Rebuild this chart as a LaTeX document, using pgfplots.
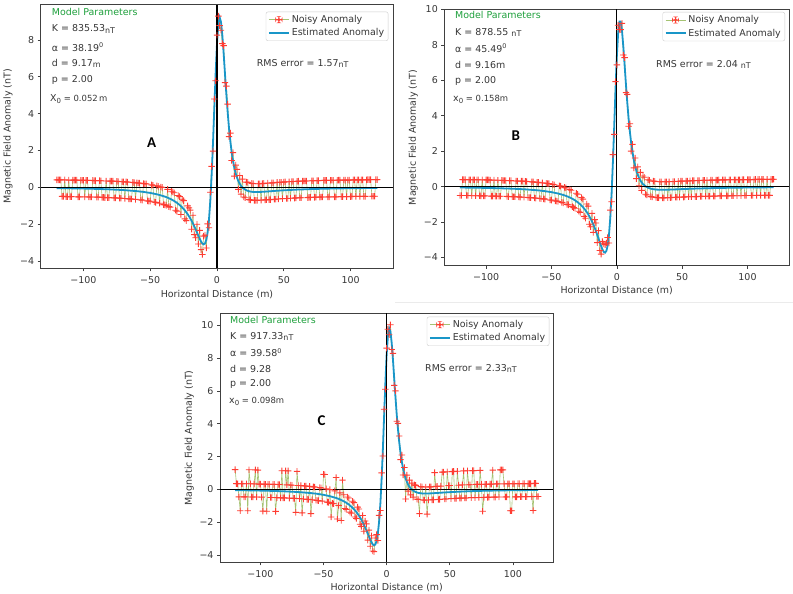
\documentclass[border=0pt]{standalone}
\usepackage{fontspec}
\setmainfont{DejaVu Sans}
\newfontfamily\carlito{Carlito}
\usepackage{pgfplots}
\usepackage{pgfplotstable}
\pgfplotsset{compat=1.18}
\definecolor{noisyline}{RGB}{165,195,115}
\definecolor{noisymark}{RGB}{255,60,50}
\definecolor{estblue}{RGB}{25,150,200}
\definecolor{mpgreen}{RGB}{30,160,60}
\definecolor{txt}{RGB}{55,55,55}
\newcommand\fs{\fontsize{9.5}{11}\selectfont}
\newcommand\un[1]{{\fontsize{8}{8}\selectfont\raisebox{-1.2bp}{#1}}}
\newcommand\dg{\raisebox{3.6bp}{\fontsize{6.5}{6.5}\selectfont 0}}
\newcommand\sub[1]{\raisebox{-2bp}{\fontsize{7}{7}\selectfont #1}}
\pgfdeclareplotmark{plusf}{%
 \pgfpathrectangle{\pgfpoint{-\pgfplotmarksize}{-0.45bp}}{\pgfpoint{2\pgfplotmarksize}{0.9bp}}%
 \pgfpathrectangle{\pgfpoint{-0.45bp}{-\pgfplotmarksize}}{\pgfpoint{0.9bp}{2\pgfplotmarksize}}%
 \pgfusepathqfill}
% ---------- data ----------
\pgfplotstableread{
x y
-120 0.40
-119 0.40
-118 0.40
-117 0.40
-116 -0.50
-115 -0.50
-114 0.40
-113 -0.51
-112 -0.51
-111 0.39
-110 -0.51
-109 -0.51
-108 0.39
-107 0.39
-106 0.39
-105 0.39
-104 -0.52
-103 -0.52
-102 0.38
-101 0.38
-100 0.38
-99 -0.52
-98 0.37
-97 0.37
-96 -0.53
-95 -0.53
-94 -0.53
-93 0.37
-92 0.36
-91 0.36
-90 -0.54
-89 -0.54
-88 0.36
-87 0.35
-86 -0.55
-85 -0.55
-84 -0.56
-83 0.34
-82 -0.56
-81 -0.56
-80 0.33
-79 0.33
-78 0.33
-77 -0.58
-76 -0.58
-75 0.32
-74 0.31
-73 -0.59
-72 -0.60
-71 0.30
-70 0.30
-69 -0.61
-68 0.29
-67 0.28
-66 -0.63
-65 -0.63
-64 -0.64
-63 0.26
-62 0.25
-61 -0.66
-60 0.24
-59 0.23
-58 0.22
-57 -0.69
-56 -0.70
-55 0.20
-54 0.19
-53 0.18
-52 -0.74
-51 -0.75
-50 -0.76
-49 0.13
-48 0.11
-47 -0.80
-46 -0.82
-45 0.07
-44 0.05
-43 -0.87
-42 0.01
-41 -0.01
-40 -0.94
-39 -0.96
-38 -0.99
-37 -0.12
-36 -1.05
-35 -1.08
-34 -0.22
-33 -0.26
-32 -0.30
-31 -1.25
-30 -1.30
-29 -0.45
-28 -0.51
-27 -1.48
-26 -0.65
-25 -0.73
-24 -1.72
-23 -1.81
-22 -1.01
-21 -1.12
-20 -1.24
-19 -2.28
-18 -1.52
-17 -2.57
-16 -2.74
-15 -2.01
-14 -3.08
-13 -2.34
-12 -3.39
-11 -3.65
-10 -2.65
-9 -2.60
-8 -3.30
-7 -1.99
-6 -2.20
-5 -0.27
-4 1.13
-3 1.96
-2 4.79
-1 5.78
0 8.26
1 9.29
2 8.77
3 8.52
4 7.80
5 7.69
6 5.68
7 5.49
8 4.51
9 2.75
10 2.94
11 1.45
12 1.88
13 0.60
14 1.20
15 0.97
16 -0.12
17 0.64
18 -0.37
19 0.44
20 -0.53
21 -0.57
22 0.28
23 0.26
24 -0.67
25 -0.69
26 0.21
27 0.20
28 -0.71
29 -0.71
30 -0.71
31 0.19
32 0.19
33 -0.70
34 0.20
35 0.21
36 -0.69
37 -0.68
38 0.22
39 -0.67
40 -0.67
41 0.24
42 0.24
43 -0.65
44 -0.65
45 0.26
46 -0.64
47 0.27
48 0.27
49 -0.62
50 0.28
51 0.29
52 -0.61
53 -0.61
54 0.30
55 -0.60
56 0.31
57 0.31
58 -0.59
59 -0.58
60 0.32
61 0.33
62 -0.57
63 -0.57
64 0.33
65 0.34
66 0.34
67 0.34
68 -0.56
69 -0.55
70 -0.55
71 0.35
72 0.35
73 -0.55
74 -0.54
75 0.36
76 0.36
77 -0.54
78 -0.53
79 -0.53
80 0.37
81 0.37
82 0.37
83 -0.53
84 -0.52
85 0.38
86 0.38
87 0.38
88 -0.52
89 -0.52
90 0.38
91 0.39
92 0.39
93 -0.51
94 -0.51
95 0.39
96 0.39
97 -0.51
98 0.39
99 0.39
100 -0.51
101 -0.50
102 0.40
103 0.40
104 -0.50
105 0.40
106 0.40
107 -0.50
108 0.40
109 0.40
110 -0.50
111 -0.50
112 0.40
113 0.41
114 0.41
115 0.41
116 -0.49
117 -0.49
118 -0.49
119 0.41
120 0.41
}\noisyA
\pgfplotstableread{
x y
-120 -0.50
-119 -0.50
-118 0.40
-117 0.40
-116 0.40
-115 -0.50
-114 -0.50
-113 0.39
-112 0.39
-111 -0.51
-110 0.39
-109 0.39
-108 -0.51
-107 0.39
-106 0.39
-105 -0.51
-104 -0.52
-103 0.38
-102 -0.52
-101 -0.52
-100 0.38
-99 0.38
-98 0.38
-97 0.37
-96 -0.53
-95 -0.53
-94 0.37
-93 -0.53
-92 -0.54
-91 0.36
-90 -0.54
-89 -0.54
-88 0.36
-87 0.35
-86 0.35
-85 0.35
-84 -0.55
-83 -0.56
-82 0.34
-81 0.34
-80 -0.56
-79 -0.57
-78 -0.57
-77 0.32
-76 0.32
-75 -0.58
-74 -0.59
-73 0.31
-72 0.31
-71 -0.60
-70 0.30
-69 0.29
-68 -0.61
-67 -0.62
-66 -0.62
-65 0.27
-64 0.27
-63 -0.64
-62 -0.65
-61 0.24
-60 0.24
-59 -0.67
-58 -0.68
-57 0.21
-56 -0.69
-55 -0.70
-54 0.19
-53 0.18
-52 0.17
-51 -0.75
-50 -0.76
-49 0.13
-48 0.11
-47 -0.80
-46 -0.82
-45 -0.84
-44 0.05
-43 0.03
-42 -0.89
-41 -0.92
-40 -0.04
-39 -0.07
-38 -1.00
-37 -1.03
-36 -0.16
-35 -0.20
-34 -1.13
-33 -1.18
-32 -1.22
-31 -0.37
-30 -0.43
-29 -1.39
-28 -1.45
-27 -0.62
-26 -0.70
-25 -1.68
-24 -1.78
-23 -0.98
-22 -1.10
-21 -2.12
-20 -2.26
-19 -1.51
-18 -2.58
-17 -1.86
-16 -2.05
-15 -3.16
-14 -2.48
-13 -3.60
-12 -3.81
-11 -3.10
-10 -3.23
-9 -3.27
-8 -3.18
-7 -2.87
-6 -3.18
-5 -1.32
-4 -0.85
-3 1.81
-2 2.95
-1 5.93
0 6.87
1 9.11
2 8.87
3 8.86
4 9.22
5 7.43
6 7.28
7 5.31
8 5.21
9 3.41
10 3.55
11 2.01
12 2.39
13 1.06
14 1.62
15 0.45
16 1.12
17 0.05
18 0.81
19 -0.21
20 0.60
21 0.53
22 -0.43
23 -0.47
24 0.39
25 0.36
26 -0.56
27 -0.58
28 0.31
29 0.30
30 -0.61
31 -0.62
32 -0.62
33 0.28
34 0.28
35 -0.63
36 -0.63
37 0.28
38 0.28
39 -0.62
40 0.28
41 -0.62
42 -0.61
43 0.29
44 0.29
45 -0.60
46 -0.60
47 0.30
48 -0.59
49 0.31
50 0.31
51 -0.59
52 -0.58
53 0.32
54 0.32
55 -0.57
56 0.33
57 -0.57
58 0.34
59 0.34
60 -0.56
61 -0.56
62 0.35
63 0.35
64 -0.55
65 -0.55
66 0.36
67 0.36
68 -0.54
69 0.36
70 -0.54
71 -0.54
72 0.37
73 0.37
74 -0.53
75 -0.53
76 0.37
77 0.37
78 0.38
79 -0.52
80 -0.52
81 0.38
82 0.38
83 0.38
84 -0.52
85 -0.52
86 0.39
87 0.39
88 -0.51
89 -0.51
90 0.39
91 0.39
92 -0.51
93 0.39
94 0.39
95 -0.51
96 0.40
97 0.40
98 -0.50
99 -0.50
100 0.40
101 0.40
102 0.40
103 -0.50
104 -0.50
105 0.40
106 0.41
107 -0.49
108 0.41
109 0.41
110 -0.49
111 0.41
112 0.41
113 -0.49
114 -0.49
115 0.41
116 -0.49
117 -0.49
118 0.41
119 0.41
120 0.42
}\noisyB
\pgfplotstableread{
x y
-120 1.20
-119 0.35
-118 0.34
-117 -0.46
-116 -1.31
-115 0.34
-114 0.34
-113 -0.46
-112 -0.46
-111 0.34
-110 -1.31
-109 1.19
-108 0.34
-107 -0.47
-106 -0.47
-105 0.33
-104 1.18
-103 -0.47
-102 1.17
-101 0.32
-100 0.32
-99 -0.48
-98 -1.33
-97 0.32
-96 0.31
-95 -1.34
-94 0.31
-93 0.31
-92 -0.50
-91 -0.50
-90 0.30
-89 0.30
-88 -1.35
-87 -0.51
-86 0.29
-85 0.29
-84 -0.52
-83 1.13
-82 -0.52
-81 -0.52
-80 1.13
-79 0.27
-78 1.12
-77 -0.54
-76 0.26
-75 0.25
-74 -0.55
-73 -0.55
-72 -1.41
-71 1.09
-70 0.23
-69 -0.57
-68 0.22
-67 -1.44
-66 -0.59
-65 0.20
-64 0.20
-63 -0.61
-62 -0.62
-61 0.18
-60 -1.48
-59 -0.64
-58 0.15
-57 0.14
-56 -0.67
-55 -0.68
-54 -0.69
-53 0.10
-52 0.09
-51 -0.72
-50 0.91
-49 0.90
-48 0.03
-47 -0.78
-46 -0.80
-45 -0.02
-44 -1.69
-43 -0.86
-42 -0.88
-41 -0.10
-40 0.72
-39 -1.81
-38 -0.99
-37 -0.22
-36 -1.90
-35 0.56
-34 -0.33
-33 -1.17
-32 -1.22
-31 -0.47
-30 -0.53
-29 -1.39
-28 -1.45
-27 -0.73
-26 -0.81
-25 -1.69
-24 -1.78
-23 -1.09
-22 -1.20
-21 -2.13
-20 -2.26
-19 -1.60
-18 -2.56
-17 -1.93
-16 -2.11
-15 -3.10
-14 -2.49
-13 -3.47
-12 -2.83
-11 -3.76
-10 -3.80
-9 -2.97
-8 -2.76
-7 -3.12
-6 -1.59
-5 -1.29
-4 1.00
-3 2.03
-2 4.88
-1 6.10
0 8.61
1 9.76
2 9.42
3 10.03
4 8.52
5 8.29
6 6.34
7 6.00
8 4.15
9 4.02
10 3.25
11 1.81
12 2.09
13 0.87
14 1.33
15 -0.59
16 0.86
17 -0.11
18 0.56
19 -0.34
20 0.38
21 -0.48
22 0.27
23 0.24
24 -0.60
25 -0.62
26 -1.48
27 0.16
28 0.15
29 -0.65
30 -0.66
31 0.14
32 -1.51
33 -0.65
34 0.15
35 0.15
36 -0.64
37 -0.64
38 1.02
39 0.17
40 0.18
41 -0.62
42 -0.61
43 0.19
44 1.05
45 1.05
46 -0.59
47 -0.59
48 1.07
49 0.22
50 0.23
51 -0.57
52 1.08
53 1.09
54 -0.56
55 -0.55
56 1.10
57 0.25
58 -0.54
59 -0.54
60 0.27
61 1.12
62 -0.53
63 -0.53
64 1.13
65 0.28
66 0.28
67 -0.51
68 1.14
69 1.14
70 -0.51
71 0.30
72 0.30
73 -0.50
74 1.15
75 0.31
76 -1.34
77 -0.49
78 0.31
79 0.31
80 -0.49
81 -0.48
82 0.32
83 0.32
84 1.17
85 -0.48
86 -0.48
87 0.33
88 0.33
89 -0.47
90 1.18
91 1.18
92 1.18
93 0.33
94 -0.47
95 -0.46
96 0.34
97 0.34
98 -1.31
99 -1.31
100 0.34
101 0.34
102 -0.46
103 -0.46
104 0.35
105 0.35
106 -0.45
107 -0.45
108 0.35
109 0.35
110 -0.45
111 -0.45
112 0.35
113 0.35
114 0.35
115 -0.45
116 -1.29
117 0.36
118 0.36
119 -0.44
120 -0.44
}\noisyC
\pgfplotsset{
 panel/.style={scale only axis, anchor=south west, xmin=-132, xmax=132,
  xtick={-100,-50,0,50,100}, xticklabels={−100,−50,0,50,100},
  tick align=outside, xtick pos=left, ytick pos=left, major tick length=3bp,
  tick style={black!75, line width=0.6bp},
  axis line style={black!75, line width=0.8bp},
  ticklabel style={font=\fs, text=txt},
  xticklabel style={yshift=-1.5bp},
  legend style={draw=black!20, rounded corners=2bp, fill=white, font=\fs, text=txt,
   inner xsep=2bp, inner ysep=1.5bp, row sep=0.5bp, cells={anchor=west},
   anchor=north east},
  legend image code/.code={\draw[##1] (0bp,0bp) -- (20bp,0bp);}},
 nline/.style={color=noisyline, line width=0.6bp, no markers, forget plot},
 nmark/.style={color=noisymark, only marks, mark=plusf, mark size=3.2bp,
  mark options={fill=noisymark, draw=none},
  legend image code/.code={\draw[color=noisyline, line width=0.6bp] (0bp,0bp) -- (20bp,0bp);
   \fill[noisymark] (6.8bp,-0.45bp) rectangle (13.2bp,0.45bp) (9.55bp,-3.2bp) rectangle (10.45bp,3.2bp);}},
 est/.style={color=estblue, line width=1.8bp, no markers},
}
\begin{document}
\begin{tikzpicture}[x=1bp,y=1bp]
\useasboundingbox (0,0) rectangle (793,594);
\fill[white] (0,0) rectangle (793,594);
\draw[black!8, line width=0.8bp] (395,291.3) -- (793,291.3);
% ---------------- A ----------------
\begin{axis}[panel, at={(40.7bp,325.7bp)}, width=352.6bp, height=263.6bp,
 ymin=-4.4, ymax=9.91, ytick={-4,-2,0,2,4,6,8}, yticklabels={−4,−2,0,2,4,6,8},
 legend style={at={(1,1)}, xshift=-5bp, yshift=-7bp}]
\addplot[nline] table {\noisyA};
\addplot[nmark] table {\noisyA};
\addplot[est] coordinates {(-120,-0.050)(-110,-0.059)(-100,-0.073)(-90,-0.091)(-80,-0.117)(-70,-0.154)(-60,-0.212)(-55,-0.254)(-50,-0.309)(-45,-0.383)(-40,-0.485)(-38,-0.536)(-36,-0.597)(-34,-0.667)(-32,-0.749)(-30,-0.847)(-28,-0.962)(-26,-1.099)(-24,-1.263)(-22,-1.460)
(-20,-1.693)(-19,-1.826)(-18,-1.969)(-17,-2.124)(-16,-2.286)(-15,-2.456)(-14,-2.627)(-13,-2.793)(-12,-2.941)(-11,-3.054)(-10,-3.103)(-9,-3.053)(-8,-2.853)(-7,-2.442)(-6,-1.750)(-5,-0.718)(-4,0.682)(-3,2.411)(-2,4.337)(-1,6.228)(0,7.810)(1,8.844)(2,9.219)(3,8.969)(4,8.246)(5,7.240)(6,6.130)(7,5.044)(8,4.057)(9,3.201)(10,2.487)(11,1.900)(12,1.428)(13,1.051)(14,0.753)(15,0.518)(16,0.334)(17,0.190)(18,0.077)(19,-0.010)(20,-0.077)
(22,-0.168)(24,-0.219)(26,-0.247)(28,-0.258)(30,-0.260)(32,-0.255)(34,-0.249)(36,-0.239)(38,-0.228)(40,-0.217)(45,-0.190)(50,-0.167)(60,-0.128)(70,-0.101)(80,-0.080)(90,-0.066)(100,-0.055)(110,-0.047)(120,-0.039)};
\draw[black, line width=1.3bp] (axis cs:-132,0) -- (axis cs:132,0);
\draw[black, line width=1.3bp] (axis cs:0,-4.4) -- (axis cs:0,9.91);
\legend{Noisy Anomaly, Estimated Anomaly}
\end{axis}
% ---------------- B ----------------
\begin{axis}[panel, at={(444.3bp,328.3bp)}, width=345bp, height=256.2bp,
 ymin=-4.46, ymax=10, ytick={-4,-2,0,2,4,6,8,10}, yticklabels={−4,−2,0,2,4,6,8,10},
 legend style={at={(1,1)}, xshift=-4.3bp, yshift=-2.5bp}]
\addplot[nline] table {\noisyB};
\addplot[nmark] table {\noisyB};
\addplot[est] coordinates {(-120,-0.049)(-110,-0.058)(-100,-0.071)(-90,-0.089)(-80,-0.114)(-70,-0.152)(-60,-0.211)(-55,-0.254)(-50,-0.309)(-45,-0.385)(-40,-0.491)(-38,-0.546)(-36,-0.609)(-34,-0.683)(-32,-0.770)(-30,-0.875)(-28,-0.999)(-26,-1.148)(-24,-1.328)(-22,-1.546)
(-20,-1.810)(-19,-1.963)(-18,-2.129)(-17,-2.310)(-16,-2.504)(-15,-2.712)(-14,-2.929)(-13,-3.148)(-12,-3.360)(-11,-3.545)(-10,-3.679)(-9,-3.723)(-8,-3.627)(-7,-3.320)(-6,-2.725)(-5,-1.768)(-4,-0.401)(-3,1.360)(-2,3.396)(-1,5.481)(0,7.324)(1,8.655)(2,9.318)(3,9.314)(4,8.773)(5,7.884)(6,6.833)(7,5.760)(8,4.755)(9,3.863)(10,3.101)(11,2.463)(12,1.940)(13,1.514)(14,1.171)(15,0.896)(16,0.674)(17,0.496)(18,0.355)(19,0.241)(20,0.150)
(22,0.020)(24,-0.062)(26,-0.114)(28,-0.145)(30,-0.163)(32,-0.172)(34,-0.175)(36,-0.175)(38,-0.172)(40,-0.167)(45,-0.154)(50,-0.137)(60,-0.109)(70,-0.087)(80,-0.071)(90,-0.060)(100,-0.049)(110,-0.042)(120,-0.035)};
\draw[black, line width=1.3bp] (axis cs:-132,0) -- (axis cs:132,0);
\draw[black, line width=1.3bp] (axis cs:0,-4.46) -- (axis cs:0,10);
\legend{Noisy Anomaly, Estimated Anomaly}
\end{axis}
% ---------------- C ----------------
\begin{axis}[panel, at={(220bp,31.7bp)}, width=333.3bp, height=249bp,
 ymin=-4.45, ymax=10.73, ytick={-4,-2,0,2,4,6,8,10}, yticklabels={−4,−2,0,2,4,6,8,10},
 legend style={at={(1,1)}, xshift=-4bp, yshift=-3.4bp}]
\addplot[nline] table {\noisyC};
\addplot[nmark] table {\noisyC};
\addplot[est] coordinates {(-120,-0.054)(-110,-0.064)(-100,-0.080)(-90,-0.099)(-80,-0.127)(-70,-0.168)(-60,-0.230)(-55,-0.275)(-50,-0.336)(-45,-0.418)(-40,-0.529)(-38,-0.586)(-36,-0.653)(-34,-0.729)(-32,-0.820)(-30,-0.927)(-28,-1.053)(-26,-1.205)(-24,-1.384)(-22,-1.600)
(-20,-1.857)(-19,-2.004)(-18,-2.160)(-17,-2.330)(-16,-2.508)(-15,-2.695)(-14,-2.885)(-13,-3.066)(-12,-3.231)(-11,-3.356)(-10,-3.415)(-9,-3.366)(-8,-3.155)(-7,-2.720)(-6,-1.986)(-5,-0.891)(-4,0.596)(-3,2.433)(-2,4.481)(-1,6.503)(0,8.213)(1,9.361)(2,9.823)(3,9.625)(4,8.916)(5,7.893)(6,6.740)(7,5.596)(8,4.545)(9,3.624)(10,2.847)(11,2.206)(12,1.685)(13,1.266)(14,0.931)(15,0.665)(16,0.456)(17,0.290)(18,0.160)(19,0.058)(20,-0.021)
(22,-0.132)(24,-0.196)(26,-0.233)(28,-0.251)(30,-0.257)(32,-0.256)(34,-0.251)(36,-0.243)(38,-0.234)(40,-0.223)(45,-0.197)(50,-0.174)(60,-0.135)(70,-0.106)(80,-0.085)(90,-0.070)(100,-0.058)(110,-0.050)(120,-0.042)};
\draw[black, line width=1.3bp] (axis cs:-132,0) -- (axis cs:132,0);
\draw[black, line width=1.3bp] (axis cs:0,-4.45) -- (axis cs:0,10.73);
\legend{Noisy Anomaly, Estimated Anomaly}
\end{axis}
% ---------------- texts ----------------
\begin{scope}[every node/.style={font=\fs, text=txt, inner sep=0pt}]
% A
\node[anchor=west, text=mpgreen] at (51.7,581.7) {Model Parameters};
\node[anchor=west] at (51.7,565) {K = 835.53\un{nT}};
\node[anchor=west] at (51.7,547) {α = 38.19\dg};
\node[anchor=west] at (51.7,530.7) {d = 9.17\un{m}};
\node[anchor=west] at (51.7,513.7) {p = 2.00};
\node[anchor=west] at (50,495) {X\sub{0}{\fontsize{8.5}{9}\selectfont{} = 0.052\,m}};
\node[anchor=west] at (256.7,530.7) {RMS error = 1.57\un{nT}};
\node[font=\carlito\bfseries\fontsize{15}{15}\selectfont, text=black] at (151.7,451.3) {A};
\node at (217,299.7) {Horizontal Distance (m)};
\node[rotate=90] at (8,457.5) {Magnetic Field Anomaly (nT)};
% B
\node[anchor=west, text=mpgreen] at (455,579.3) {Model Parameters};
\node[anchor=west] at (455,561.7) {K = 878.55 \un{nT}};
\node[anchor=west] at (455,545.7) {α = 45.49\dg};
\node[anchor=west] at (455,529) {d = 9.16m};
\node[anchor=west] at (455,513) {p = 2.00};
\node[anchor=west] at (453,494.7) {x\sub{0}{\fontsize{8.5}{9}\selectfont{} = 0.158m}};
\node[anchor=west] at (656,529.7) {RMS error = 2.04 \un{nT}};
\node[font=\carlito\bfseries\fontsize{15}{15}\selectfont, text=black] at (515.7,458) {B};
\node at (616.7,303) {Horizontal Distance (m)};
\node[rotate=90] at (413.3,456.4) {Magnetic Field Anomaly (nT)};
% C
\node[anchor=west, text=mpgreen] at (230,274) {Model Parameters};
\node[anchor=west] at (230,257.3) {K = 917.33\un{nT}};
\node[anchor=west] at (230,241.3) {α = 39.58\dg};
\node[anchor=west] at (230,225) {d = 9.28};
\node[anchor=west] at (230,209.7) {p = 2.00};
\node[anchor=west] at (229,192.3) {x\sub{0}{\fontsize{8.5}{9}\selectfont{} = 0.098m}};
\node[anchor=west] at (425,225.7) {RMS error = 2.33\un{nT}};
\node[font=\carlito\bfseries\fontsize{15}{15}\selectfont, text=black] at (321.7,173) {C};
\node at (386.7,6.3) {Horizontal Distance (m)};
\node[rotate=90] at (189.3,156.2) {Magnetic Field Anomaly (nT)};
\end{scope}
\end{tikzpicture}
\end{document}
